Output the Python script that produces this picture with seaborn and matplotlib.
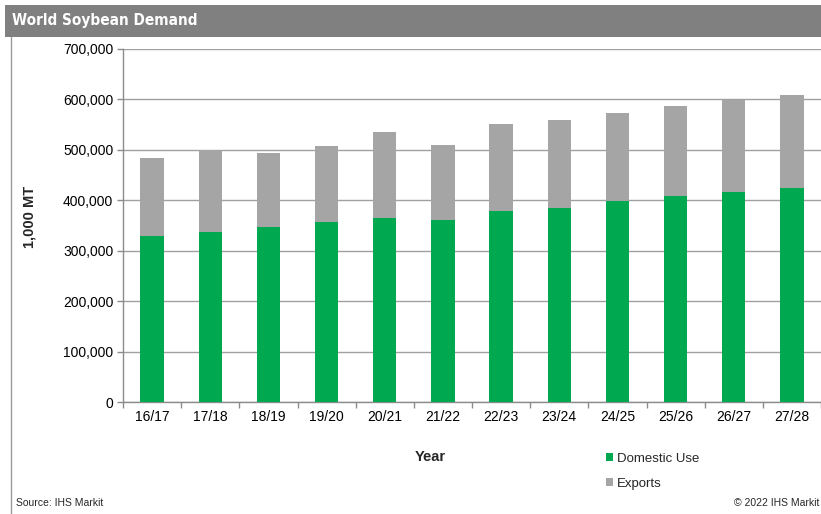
import matplotlib
matplotlib.use("Agg")
import matplotlib.pyplot as plt
import seaborn as sns
import pandas as pd
from matplotlib import font_manager
from matplotlib.patches import Rectangle, Patch
from matplotlib.lines import Line2D
from matplotlib.ticker import FuncFormatter, MultipleLocator, FixedLocator

years = ["16/17", "17/18", "18/19", "19/20", "20/21", "21/22",
         "22/23", "23/24", "24/25", "25/26", "26/27", "27/28"]
domestic = [330000, 338000, 347000, 356000, 365000, 360000,
            378000, 385000, 398000, 408000, 416000, 425000]
exports = [153000, 162000, 146000, 152000, 171000, 150000,
           173000, 174000, 176000, 179000, 182000, 184000]

GREEN = "#00a84f"
GRAY = "#a5a5a5"

sns.set_theme(style="white")
plt.rcParams["font.family"] = ["Liberation Sans", "DejaVu Sans"]

# look for a condensed/narrow bold face for the title, if any is installed
narrow = None
for f in font_manager.fontManager.ttflist:
    nm = f.name.lower()
    if ("narrow" in nm or "condensed" in nm or str(f.stretch) in ("condensed", "semi-condensed", "extra-condensed")) \
            and (f.weight in ("bold", 700) or str(f.weight) == "700"):
        narrow = f.fname
        break

df = pd.DataFrame({"Year": years, "Domestic Use": domestic, "Exports": exports})
df["Total"] = df["Domestic Use"] + df["Exports"]

W, H = 821, 514
fig = plt.figure(figsize=(W / 100, H / 100), dpi=100)
fig.patch.set_facecolor("white")

# title bar
fig.add_artist(Rectangle((5 / W, 1 - 37 / H), 816 / W, 32 / H, transform=fig.transFigure,
                         facecolor="#7f807f", edgecolor="none", zorder=0))
if narrow:
    fig.text(12 / W, 1 - 20.5 / H, "World Soybean Demand", color="white", fontsize=11,
             fontproperties=font_manager.FontProperties(fname=narrow, size=11),
             va="center", ha="left")
else:
    fig.text(12 / W, 1 - 20.5 / H, "World Soybean Demand", color="white", fontsize=10,
             fontweight="bold", va="center", ha="left")
# left border line
fig.add_artist(Line2D([10.5 / W, 10.5 / W], [0, 1 - 37 / H], transform=fig.transFigure,
                      color="#9a9a9a", lw=1))

ax = fig.add_axes([123 / W, 1 - 402 / H, (W - 123) / W, (402 - 49) / H])
sns.barplot(data=df, x="Year", y="Total", color=GRAY, width=0.4, ax=ax,
            saturation=1, edgecolor="none", zorder=3)
sns.barplot(data=df, x="Year", y="Domestic Use", color=GREEN, width=0.4, ax=ax,
            saturation=1, edgecolor="none", zorder=3)

ax.set_ylim(0, 700000)
ax.set_xlim(-0.5, len(years) - 0.5)
ax.yaxis.set_major_locator(MultipleLocator(100000))
ax.yaxis.set_major_formatter(FuncFormatter(lambda v, p: f"{int(v):,}"))
ax.grid(axis="y", color="#a0a0a0", lw=1, zorder=0)
ax.set_axisbelow(True)
for s in ["top", "right"]:
    ax.spines[s].set_visible(False)
for s in ["left", "bottom"]:
    ax.spines[s].set_color("#8c8c8c")
    ax.spines[s].set_linewidth(1)

ax.tick_params(axis="y", which="major", left=True, length=4, width=1, color="#8c8c8c",
               labelsize=10, pad=3, labelcolor="black")
ax.tick_params(axis="x", which="major", bottom=False, length=0, labelsize=10, pad=6,
               labelcolor="black")
ax.xaxis.set_minor_locator(FixedLocator([i - 0.5 for i in range(len(years) + 1)]))
ax.tick_params(axis="x", which="minor", bottom=True, length=4, width=1, color="#8c8c8c")

ax.set_xlabel("")
ax.set_ylabel("")
fig.text(30 / W, 1 - 217 / H, "1,000 MT", rotation=90, fontsize=10.5, fontweight="bold",
         ha="center", va="center")
fig.text(430 / W, 1 - 457 / H, "Year", fontsize=10.5, fontweight="bold",
         ha="center", va="center")

handles = [Patch(facecolor=GREEN, edgecolor="none", label="Domestic Use"),
           Patch(facecolor=GRAY, edgecolor="none", label="Exports")]
fig.legend(handles=handles, loc="upper left", bbox_to_anchor=(606 / W, 1 - 453 / H),
           frameon=False, fontsize=9.5, handlelength=0.55, handleheight=0.55,
           handletextpad=0.3, labelspacing=0.95, borderaxespad=0, borderpad=0)

fig.text(16 / W, 1 - 503 / H, "Source: IHS Markit", fontsize=7.5, ha="left", va="center")
fig.text(819 / W, 1 - 503 / H, "\u00a9 2022 IHS Markit", fontsize=7.5, ha="right", va="center")

fig.savefig("out.png", dpi=100)
